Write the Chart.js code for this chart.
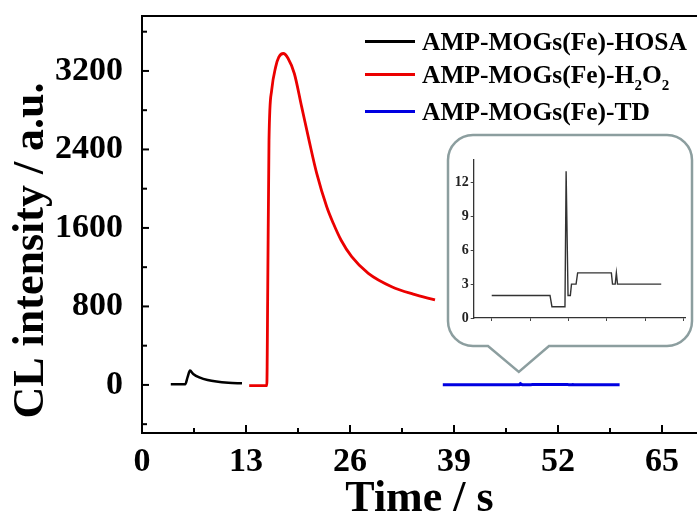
<!DOCTYPE html>
<html><head><meta charset="utf-8">
<script src="https://cdn.jsdelivr.net/npm/chart.js@4.4.0/dist/chart.umd.min.js"></script>
<style>
html,body{margin:0;padding:0;background:#fff;overflow:hidden}
#wrap{position:relative;width:697px;height:513px}
#main{position:absolute;left:0;top:0}
#inset{position:absolute;left:448px;top:135px}
</style></head><body>
<div id="wrap"><canvas id="main" width="697" height="513"></canvas><canvas id="inset" width="244" height="211"></canvas></div>
<script>
// ---- data ----
const hosaTime  = [3.6, 5.4, 5.7, 6.0, 6.4, 7.25, 8.2, 9.3, 10.8, 12.5];
const hosaValue = [6, 6, 80, 146, 112, 74, 50, 34, 22, 16];
const h2o2Time  = [13.4, 15.6, 15.72, 15.875, 16.21, 16.71, 17.1, 17.66, 18.25, 19.04, 19.96, 20.875, 21.84, 23.09, 23.91, 24.875, 26.21, 28.29, 31.21, 33.9, 36.625];
const h2o2Value = [-8, -8, 1000, 2495, 3004, 3241, 3340, 3378, 3330, 3174, 2834, 2495, 2156, 1816, 1647, 1477, 1307, 1137, 1001, 925, 866];
const tdTime    = [37.6, 45.2, 45.45, 47.15, 47.3, 47.55, 47.85, 48.0, 48.6, 48.8, 53.2, 53.35, 53.7, 53.85, 54.0, 59.7];
const tdValue   = [2, 2, 1, 1, 13, 2, 2, 3, 3, 4, 4, 3, 3, 4, 3, 3];
const seriesLabels = ['AMP-MOGs(Fe)-HOSA', 'AMP-MOGs(Fe)-H₂O₂', 'AMP-MOGs(Fe)-TD'];
const xTickValues = [0, 13, 26, 39, 52, 65];
const yTickValues = [0, 800, 1600, 2400, 3200];
const insetYTickValues = [0, 3, 6, 9, 12];
const insetXTickOffsets = [0, 5, 10, 15, 20, 25];

const SERIF = "'Liberation Serif','Times New Roman',serif";
Chart.defaults.font.family = SERIF;
Chart.defaults.font.weight = 'bold';
Chart.defaults.color = '#000';

function zip(xs, ys){ return xs.map((x,i)=>({x:x, y:ys[i]})); }
function noPad(s){ s.paddingTop = 0; s.paddingBottom = 0; s.paddingLeft = 0; s.paddingRight = 0; }

// inward ticks (major + minor) and top frame line
const frameTicks = {
  id:'frameTicks',
  afterDraw(chart){
    const ctx = chart.ctx, a = chart.chartArea;
    ctx.save();
    ctx.strokeStyle = '#000'; ctx.lineWidth = 2;
    ctx.beginPath(); ctx.moveTo(a.left, a.top); ctx.lineTo(a.right, a.top); ctx.stroke();
    const drawAxis = (scale, horiz, majorLen, minorLen) => {
      const vals = scale.ticks.map(t=>t.value);
      const step = vals[1]-vals[0];
      const minors = [vals[0]-step/2].concat(vals.map(v=>v+step/2)).filter(v=>v>scale.min && v<scale.max);
      const one = (v,len) => {
        const p = scale.getPixelForValue(v);
        ctx.beginPath();
        if (horiz){ ctx.moveTo(p, a.bottom); ctx.lineTo(p, a.bottom-len); }
        else { ctx.moveTo(a.left, p); ctx.lineTo(a.left+len, p); }
        ctx.stroke();
      };
      vals.forEach(v=>one(v,majorLen));
      minors.forEach(v=>one(v,minorLen));
    };
    drawAxis(chart.scales.x, true, 8, 5);
    drawAxis(chart.scales.y, false, 7, 5);
    ctx.restore();
  }
};

// y-axis title drawn from the scale's title text
const yTitle = {
  id:'yTitle',
  afterDraw(chart){
    const ctx = chart.ctx, a = chart.chartArea;
    const t = chart.options.scales.y.title;
    ctx.save();
    ctx.translate(a.left-99, (a.top+a.bottom)/2+26);
    ctx.rotate(-Math.PI/2);
    ctx.font = 'bold 44px '+SERIF;
    ctx.fillStyle = '#000'; ctx.textAlign='center'; ctx.textBaseline='alphabetic';
    ctx.fillText(t.text, 0, 0);
    ctx.restore();
  }
};

// legend inside the plot with subscript support
const subMap = {'₀':'0','₁':'1','₂':'2','₃':'3','₄':'4','₅':'5','₆':'6','₇':'7','₈':'8','₉':'9'};
const insideLegend = {
  id:'insideLegend',
  afterDraw(chart){
    const ctx = chart.ctx, a = chart.chartArea;
    const x0 = a.right-332, lineLen = 50, textX = x0+57;
    let y = a.top+25.5;
    ctx.save();
    chart.data.datasets.forEach(ds=>{
      ctx.strokeStyle = ds.borderColor; ctx.lineWidth = 3;
      ctx.beginPath(); ctx.moveTo(x0, y); ctx.lineTo(x0+lineLen, y); ctx.stroke();
      let x = textX; const base = y+8;
      ctx.fillStyle='#000'; ctx.textBaseline='alphabetic'; ctx.textAlign='left';
      let hasSub=false;
      for (const ch of ds.label){
        if (subMap[ch]){ hasSub=true; ctx.font='bold 15px '+SERIF; ctx.fillText(subMap[ch], x, base+7); x+=ctx.measureText(subMap[ch]).width; }
        else { ctx.font='bold 25.5px '+SERIF; ctx.fillText(ch, x, base); x+=ctx.measureText(ch).width; }
      }
      y += hasSub ? 37 : 33;
    });
    ctx.restore();
  }
};

// callout box behind the inset
const callout = {
  id:'callout',
  afterDatasetsDraw(chart){
    const ctx = chart.ctx;
    const L=448, R=692, T=135, B=346, r=25, bl=488, br=549;
    const tipX = chart.scales.x.getPixelForValue(47.1);
    const tipY = chart.scales.y.getPixelForValue(0)-13;
    ctx.save();
    ctx.beginPath();
    ctx.moveTo(L+r,T); ctx.lineTo(R-r,T); ctx.arcTo(R,T,R,T+r,r);
    ctx.lineTo(R,B-r); ctx.arcTo(R,B,R-r,B,r);
    ctx.lineTo(br,B); ctx.lineTo(tipX,tipY); ctx.lineTo(bl,B);
    ctx.lineTo(L+r,B); ctx.arcTo(L,B,L,B-r,r);
    ctx.lineTo(L,T+r); ctx.arcTo(L,T,L+r,T,r);
    ctx.closePath();
    ctx.fillStyle='#fff'; ctx.fill();
    ctx.strokeStyle='#8c9e9f'; ctx.lineWidth=2.5; ctx.stroke();
    ctx.restore();
  }
};

new Chart(document.getElementById('main'), {
  type:'line',
  data:{datasets:[
    {label:seriesLabels[0], data:zip(hosaTime,hosaValue), borderColor:'#000', borderWidth:2.5, pointRadius:0, cubicInterpolationMode:'monotone'},
    {label:seriesLabels[1], data:zip(h2o2Time,h2o2Value), borderColor:'rgb(235,0,0)', borderWidth:2.8, pointRadius:0, cubicInterpolationMode:'monotone'},
    {label:seriesLabels[2], data:zip(tdTime,tdValue), borderColor:'rgb(0,0,225)', borderWidth:3, pointRadius:0, tension:0}
  ]},
  options:{
    responsive:false, animation:false, events:[],
    layout:{padding:{top:16,right:0,left:0,bottom:0}},
    plugins:{legend:{display:false}, tooltip:{enabled:false}},
    scales:{
      x:{type:'linear', min:0, max:69.375,
        afterBuildTicks:s=>{ s.ticks = xTickValues.map(v=>({value:v})); },
        afterFit:s=>{ s.height = 80; noPad(s); },
        grid:{display:false}, border:{display:true, color:'#000', width:2},
        ticks:{font:{size:34, weight:'bold'}, color:'#000', padding:1, maxRotation:0, callback:v=>String(v)},
        title:{display:true, text:'Time / s', font:{size:44, weight:'bold', lineHeight:0.6}, color:'#000', padding:0}
      },
      y:{type:'linear', min:-490, max:3760,
        afterBuildTicks:s=>{ s.ticks = yTickValues.map(v=>({value:v})); },
        afterFit:s=>{ s.width = 142; noPad(s); },
        grid:{display:false}, border:{display:true, color:'#000', width:2},
        ticks:{font:{size:34, weight:'bold'}, color:'#000', padding:11, callback:v=>String(v)},
        title:{display:false, text:'CL intensity / a.u.'}
      }
    }
  },
  plugins:[callout, frameTicks, yTitle, insideLegend]
});

new Chart(document.getElementById('inset'), {
  type:'line',
  data:{datasets:[{label:seriesLabels[2], data:zip(tdTime,tdValue), borderColor:'#333', borderWidth:1.4, pointRadius:0, tension:0}]},
  options:{
    responsive:false, animation:false, events:[],
    layout:{padding:{top:25,right:7,left:0,bottom:0}},
    plugins:{legend:{display:false}, tooltip:{enabled:false}},
    scales:{
      x:{type:'linear', min:tdTime[0]-2.35, max:tdTime[0]+25.2,
        afterBuildTicks:s=>{ s.ticks = insetXTickOffsets.map(o=>({value:tdTime[0]+o})); },
        afterFit:s=>{ s.height = 28; noPad(s); },
        ticks:{display:false},
        grid:{display:true, drawOnChartArea:false, drawTicks:true, tickLength:3, color:'#444', lineWidth:1},
        border:{display:true, color:'#333', width:1.3}
      },
      y:{type:'linear', min:0, max:14,
        afterBuildTicks:s=>{ const t=[]; for(let i=0;i<=9;i++) t.push({value:i*1.5}); s.ticks=t; },
        afterFit:s=>{ s.width = 25.7; noPad(s); },
        ticks:{font:{size:14, weight:'bold'}, color:'#222', padding:2,
          callback:v=> insetYTickValues.includes(v) ? String(v) : ''},
        grid:{display:true, drawOnChartArea:false, drawTicks:true, tickLength:3, color:'#444', lineWidth:1},
        border:{display:true, color:'#333', width:1.3}
      }
    }
  }
});
</script>
</body></html>
